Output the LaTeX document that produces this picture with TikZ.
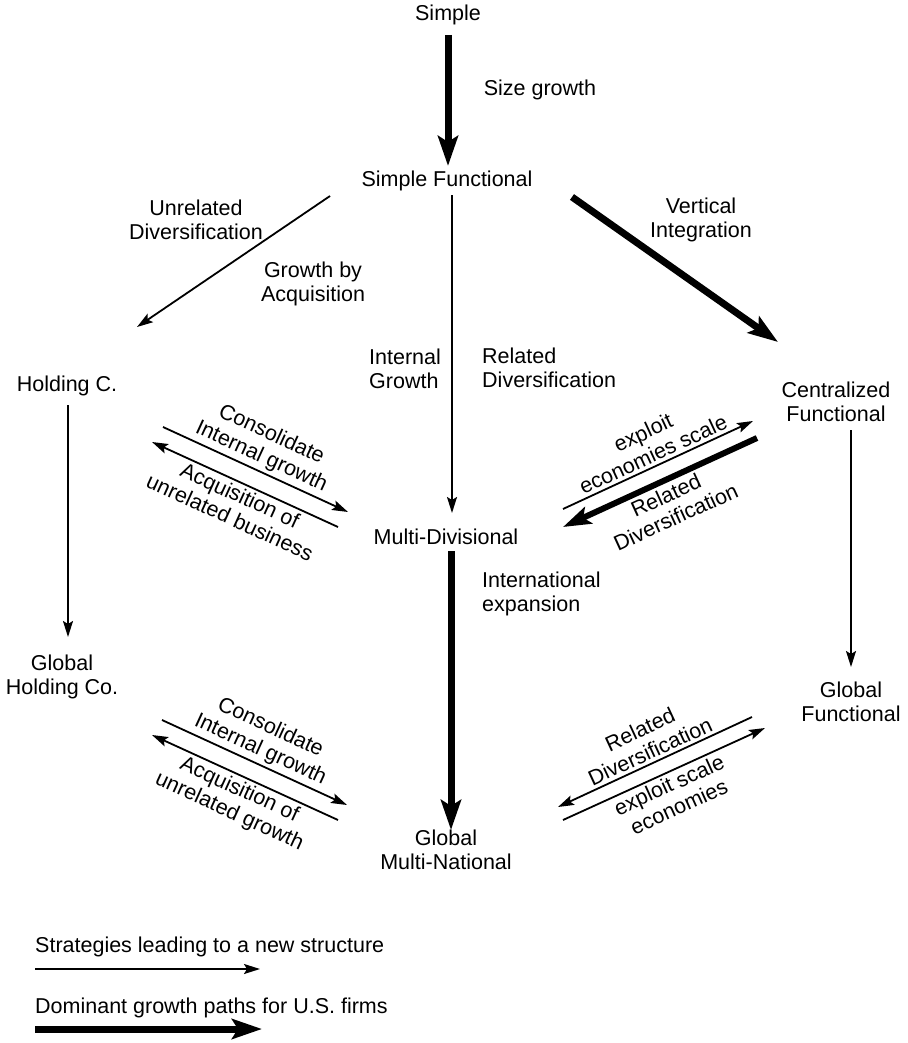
\documentclass[tikz,border=0pt]{standalone}
\usepackage{fontspec}
\setmainfont{Liberation Sans}
\usetikzlibrary{arrows.meta}

\begin{document}
\begin{tikzpicture}[x=1pt,y=-1pt,
  every node/.style={font=\fontsize{21.5}{24}\selectfont, inner sep=2pt},
  slabel/.style={align=center, sloped, midway, inner sep=3pt},
  thinarr/.style={line width=1.8pt, -{Stealth[length=16pt,width=10pt,inset=3pt]}},
  thinrev/.style={line width=1.8pt, {Stealth[length=16pt,width=10pt,inset=3pt]}-},
  thickarr/.style={line width=7pt, -{Stealth[length=30pt,width=20pt,inset=6pt]}},
  thickrev/.style={line width=6pt, {Stealth[length=28pt,width=18pt,inset=6pt]}-},
]
\useasboundingbox (0,0) rectangle (907,1043);

% structures
\node (simple)   at (448,15)  {Simple};
\node (sfunc)    at (447,181) {Simple Functional};
\node (holding)  at (67,386)  {Holding C.};
\node[align=center] (gholding) at (62,677) {Global\\Holding Co.};
\node (mdiv)     at (446,537) {Multi-Divisional};
\node[align=center] (gmn)   at (446,850) {Global\\Multi-National};
\node[align=center] (cfunc) at (836,402) {Centralized\\Functional};
\node[align=center] (gfunc) at (851,702) {Global\\Functional};

% strategy labels
\node (lsize) at (540,90) {Size growth};
\node[align=center] (lunrel) at (196,220) {Unrelated\\Diversification};
\node[align=center] (lacq)   at (313,284) {Growth by\\Acquisition};
\node[align=center] (lvert)  at (701,220) {Vertical\\Integration};
\node[align=left, anchor=west] (lint)  at (367,369) {Internal\\Growth};
\node[align=left, anchor=west] (lrel)  at (480,368) {Related\\Diversification};
\node[align=left, anchor=west] (lintl) at (480,594) {International\\expansion};

% main growth paths
\draw[thickarr] ([shift={(0,20)}]simple.center) -- ([shift={(1,-15)}]sfunc.center);
\draw[thinarr]  ([shift={(-117,15)}]sfunc.center) -- ([shift={(70,-59)}]holding.center);
\draw[thinarr]  ([shift={(5,14)}]sfunc.center) -- ([shift={(6,-24)}]mdiv.center);
\draw[thickarr] ([shift={(125,16)}]sfunc.center) -- ([shift={(-58,-60)}]cfunc.center);
\draw[thinarr]  ([shift={(1,19)}]holding.center) -- ([shift={(6,-40)}]gholding.center);
\draw[thickarr] ([shift={(5,14)}]mdiv.center) -- ([shift={(5,-20)}]gmn.center);
\draw[thinarr]  ([shift={(15,28)}]cfunc.center) -- ([shift={(0,-35)}]gfunc.center);

% Holding C. <-> Multi-Divisional
\draw[thinarr] ([shift={(96,41)}]holding.center) -- ([shift={(-98,-25)}]mdiv.center)
  node[slabel, above] (c1) {Consolidate\\Internal growth};
\draw[thinrev] ([shift={(85,56)}]holding.center) -- ([shift={(-108,-10)}]mdiv.center)
  node[slabel, below] (a1) {Acquisition of\\unrelated business};

% Multi-Divisional <-> Centralized Functional
\draw[thinarr] ([shift={(117,-28)}]mdiv.center) -- ([shift={(-83,19)}]cfunc.center)
  node[slabel, above] (e1) {exploit\\economies scale};
\draw[thickrev] ([shift={(117,-10)}]mdiv.center) -- ([shift={(-79,36)}]cfunc.center)
  node[slabel, below] (r1) {Related\\Diversification};

% Global Holding Co. <-> Global Multi-National
\draw[thinarr] ([shift={(100,43)}]gholding.center) -- ([shift={(-99,-45)}]gmn.center)
  node[slabel, above] (c2) {Consolidate\\Internal growth};
\draw[thinrev] ([shift={(90,58)}]gholding.center) -- ([shift={(-108,-30)}]gmn.center)
  node[slabel, below] (a2) {Acquisition of\\unrelated growth};

% Global Multi-National <-> Global Functional
\draw[thinrev] ([shift={(112,-43)}]gmn.center) -- ([shift={(-99,15)}]gfunc.center)
  node[slabel, above] (r2) {Related\\Diversification};
\draw[thinarr] ([shift={(117,-30)}]gmn.center) -- ([shift={(-86,26)}]gfunc.center)
  node[slabel, below] (e2) {exploit scale\\economies};

% legend
\node[anchor=west] (leg1) at (33,947) {Strategies leading to a new structure};
\coordinate (leg1a) at (35,969);
\coordinate (leg1b) at (260,969);
\draw[thinarr] (leg1a) -- (leg1b);
\node[anchor=west] (leg2) at (33,1008) {Dominant growth paths for U.S. firms};
\coordinate (leg2a) at (35,1029);
\coordinate (leg2b) at (262,1029);
\draw[thickarr] (leg2a) -- (leg2b);
\end{tikzpicture}
\end{document}
